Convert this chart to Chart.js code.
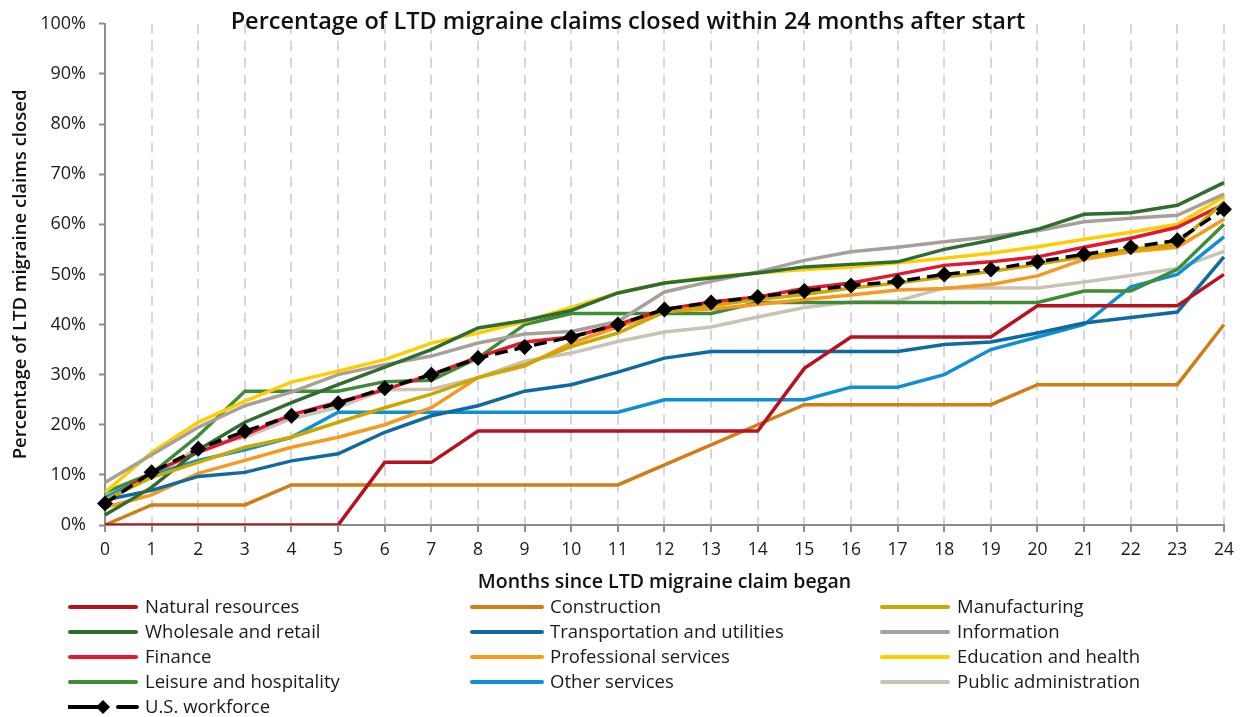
<!DOCTYPE html>
<html>
<head>
<meta charset="utf-8">
<script src="https://cdn.jsdelivr.net/npm/chart.js@4.4.1/dist/chart.umd.min.js"></script>
<style>
  html, body { margin: 0; padding: 0; background: #fff; }
  #wrap { position: relative; width: 1242px; height: 717px; font-family: 'Open Sans', Lato, sans-serif; }
  #chart { position: absolute; left: 0; top: 0; }
  .leg-text { position: absolute; font-size: 18.5px; color: #1a1a1a; white-space: nowrap; line-height: 20px; }
  .leg-line { position: absolute; height: 4px; border-radius: 2px; }
</style>
</head>
<body>
<div id="wrap">
  <canvas id="chart" width="1242" height="717"></canvas>
  <div id="legend"></div>
</div>
<script>
const chartTitle = 'Percentage of LTD migraine claims closed within 24 months after start';
const xTitle = 'Months since LTD migraine claim began';
const yTitle = 'Percentage of LTD migraine claims closed';

const months = ['0','1','2','3','4','5','6','7','8','9','10','11','12','13','14','15','16','17','18','19','20','21','22','23','24'];

const naturalResources = [0,0,0,0,0,0,12.5,12.5,18.75,18.75,18.75,18.75,18.75,18.75,18.75,31.25,37.5,37.5,37.5,37.5,43.75,43.75,43.75,43.75,50];
const construction = [0,4,4,4,8,8,8,8,8,8,8,8,12,16,20,24,24,24,24,24,28,28,28,28,40];
const manufacturing = [5,9.5,12.5,15.5,17.5,20.5,23.4,26.1,29.4,32,35.6,38.3,42.5,43.8,45,46,47.3,48.3,49.5,50.6,52,53.5,55,56,64.5];
const wholesale = [2,7.5,15,20.5,24.4,28,31.5,35,39.3,40.8,42.8,46.3,48.3,49.3,50.3,51.5,52,52.5,55,56.8,59,62,62.3,63.8,68.3];
const transportation = [5,6.9,9.7,10.5,12.8,14.2,18.5,21.8,23.8,26.7,28,30.5,33.3,34.6,34.6,34.6,34.6,34.6,36,36.5,38.3,40.3,41.4,42.5,53.5];
const information = [8.5,14,19.5,23.8,26.5,30,32,33.7,36.3,38.1,38.6,40.6,46.5,48.6,50.5,52.8,54.5,55.4,56.5,57.5,58.7,60.5,61.2,61.8,66];
const finance = [4.5,10.5,14.5,18,22,24.5,27,30,33.5,36.5,37.5,40,43,44.5,45.5,47.2,48.3,50,51.8,52.5,53.5,55.4,57.2,59.4,64];
const professional = [3.5,6,10.3,12.9,15.5,17.5,20,23.4,29.4,31.7,36.3,39.5,42.6,43.1,44,45,45.9,46.9,47.2,48,49.7,53,54.5,55.4,61];
const education = [6.5,14.5,20.5,24.7,28.5,30.7,33,36.3,38.3,40.6,43.4,46.3,48.3,49.5,50.3,51,51.5,52.3,53.2,54.2,55.5,57,58.4,60,65.5];
const leisure = [6.5,10.3,17.8,26.7,26.7,26.7,28.6,28.9,33.3,40,42.2,42.2,42.2,42.2,44.4,44.4,44.4,44.4,44.4,44.4,44.4,46.7,46.7,51,60];
const otherServices = [5.5,10,12.9,15,17.5,22.5,22.5,22.5,22.5,22.5,22.5,22.5,25,25,25,25,27.5,27.5,30,35,37.5,40,47.5,50,57.5];
const publicAdmin = [5.5,9.5,15.5,17.5,21.2,23.5,27,27.1,29.4,32.7,34.3,36.6,38.5,39.5,41.5,43.4,44.5,44.7,47.3,47.3,47.3,48.5,49.8,51.2,54.6];
const usWorkforce = [4.3,10.5,15.2,18.7,21.8,24.3,27.3,30,33.3,35.5,37.5,40,43,44.4,45.5,46.7,47.8,48.6,50,51,52.5,54,55.4,56.8,63];

const seriesNames = ['Natural resources','Construction','Manufacturing','Wholesale and retail','Transportation and utilities','Information','Finance','Professional services','Education and health','Leisure and hospitality','Other services','Public administration'];
const seriesData = [naturalResources, construction, manufacturing, wholesale, transportation, information, finance, professional, education, leisure, otherServices, publicAdmin];
const seriesColors = ['#b8121f','#d17d16','#cba800','#2f6d2e','#0f6aa3','#a8a098','#e2182e','#f7981f','#ffcc00','#3f8c38','#0e91d4','#cbc2b6'];

const fontFamily = '"Open Sans", Lato, sans-serif';
Chart.defaults.font.family = fontFamily;
Chart.defaults.color = '#1a1a1a';

const datasets = seriesNames.map((name, i) => ({
    label: name,
    data: seriesData[i],
    borderColor: seriesColors[i],
    backgroundColor: seriesColors[i],
    borderWidth: 3.5,
    pointRadius: 0,
    tension: 0,
    order: 1
}));

datasets.push({
    label: 'U.S. workforce',
    data: usWorkforce,
    borderColor: '#000',
    backgroundColor: '#000',
    borderWidth: 3.5,
    borderDash: [13, 7],
    pointStyle: 'rectRot',
    pointRadius: 8,
    pointBorderWidth: 0,
    order: 0
});

// title sits inside the plot, like the original
const insideTitle = {
    id: 'insideTitle',
    afterDraw(chart) {
        const ctx = chart.ctx;
        ctx.save();
        ctx.font = '600 23.5px ' + fontFamily;
        ctx.fillStyle = '#111';
        ctx.textAlign = 'center';
        ctx.textBaseline = 'middle';
        ctx.fillText(chartTitle, 628, 22);
        ctx.restore();
    }
};

new Chart(document.getElementById('chart').getContext('2d'), {
    type: 'line',
    data: { labels: months, datasets: datasets },
    options: {
        responsive: false,
        animation: false,
        devicePixelRatio: 1,
        layout: { padding: { left: 0, right: 18, top: 20, bottom: 122 } },
        plugins: { legend: { display: false }, tooltip: { enabled: false } },
        scales: {
            x: {
                offset: false,
                afterFit: (scale) => { scale.height = 70; },
                grid: {
                    offset: false,
                    color: (c) => c.index === 0 ? 'rgba(0,0,0,0)' : '#d6d6d6',
                    lineWidth: 2,
                    tickColor: '#8c8c8c',
                    tickWidth: 2,
                    tickLength: 7
                },
                border: { color: '#8c8c8c', width: 2, dash: [10, 7] },
                ticks: { font: { size: 17.5 }, padding: 8, maxRotation: 0, autoSkip: false, color: '#1a1a1a' },
                title: { display: true, text: xTitle, font: { size: 19.5, weight: '600' }, padding: { top: 0, bottom: 1 }, color: '#111' }
            },
            y: {
                min: 0,
                max: 100,
                afterFit: (scale) => { scale.width = 105; },
                grid: { drawOnChartArea: false, tickColor: '#8c8c8c', tickWidth: 2, tickLength: 6 },
                border: { color: '#8c8c8c', width: 2 },
                ticks: { stepSize: 10, font: { size: 18 }, padding: 13, color: '#1a1a1a', callback: (v) => v + '%' },
                title: { display: true, text: yTitle, font: { size: 18.5, weight: '600' }, padding: { top: 10, bottom: 0 }, color: '#111' }
            }
        }
    },
    plugins: [insideTitle]
});

// legend in three columns, built from the same names and colours
const legend = document.getElementById('legend');
const colLine = [68, 470, 880];
const colLineW = [70, 74, 70];
const colText = [145, 550, 957];
const rowY = 607;
const rowStep = 25;

const legendNames = seriesNames.concat(['U.S. workforce']);
legendNames.forEach((name, i) => {
    const col = i % 3;
    const row = Math.floor(i / 3);
    const yc = rowY + row * rowStep;
    if (i < seriesNames.length) {
        const line = document.createElement('div');
        line.className = 'leg-line';
        line.style.left = colLine[col] + 'px';
        line.style.width = colLineW[col] + 'px';
        line.style.top = (yc - 2) + 'px';
        line.style.background = seriesColors[i];
        legend.appendChild(line);
    } else {
        const svg = document.createElementNS('http://www.w3.org/2000/svg', 'svg');
        svg.setAttribute('width', '74');
        svg.setAttribute('height', '18');
        svg.style.position = 'absolute';
        svg.style.left = colLine[col] + 'px';
        svg.style.top = (yc - 9) + 'px';
        svg.innerHTML = '<line x1="1" y1="9" x2="34" y2="9" stroke="#000" stroke-width="4" stroke-linecap="round"/>' +
            '<polygon points="35,2 42,9 35,16 28,9" fill="#000"/>' +
            '<line x1="50" y1="9" x2="69" y2="9" stroke="#000" stroke-width="4" stroke-linecap="round"/>';
        legend.appendChild(svg);
    }
    const txt = document.createElement('div');
    txt.className = 'leg-text';
    txt.textContent = name;
    txt.style.left = colText[col] + 'px';
    txt.style.top = (yc - 11) + 'px';
    legend.appendChild(txt);
});
</script>
</body>
</html>
